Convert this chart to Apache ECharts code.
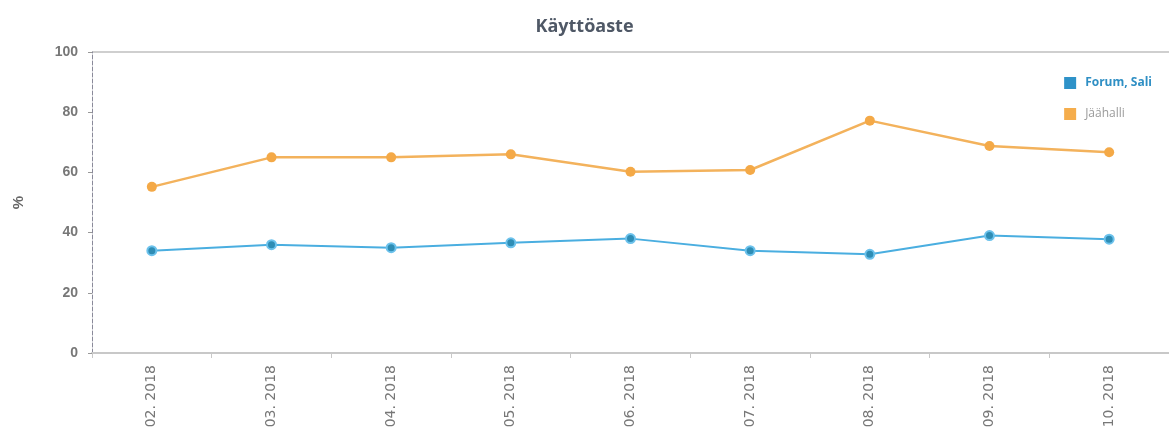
<!DOCTYPE html>
<html>
<head>
<meta charset="UTF-8">
<title>Käyttöaste</title>
<script src="https://cdn.jsdelivr.net/npm/echarts@6/dist/echarts.min.js"></script>
<style>
html,body{margin:0;padding:0;background:#fff;}
#main{width:1169px;height:445px;}
</style>
</head>
<body>
<div id="main"></div>
<script type="text/javascript">
var months = ["02. 2018","03. 2018","04. 2018","05. 2018","06. 2018","07. 2018","08. 2018","09. 2018","10. 2018"];
var forumSali = [34, 36, 35, 36.6, 38, 34, 32.8, 39, 37.8];
var jaahalli = [55.2, 65, 65, 66, 60.2, 60.8, 77.2, 68.8, 66.7];
var yTicks = [0, 20, 40, 60, 80, 100];

var myChart = echarts.init(document.getElementById('main'));
var option = {
	animation:false,
	title:{
		text:'Käyttöaste',
		left:'center',
		top:13,
		textStyle:{color:'#4f5866',fontSize:18,fontWeight:'bold',fontFamily:'Open Sans'}
	},
	legend:{
		orient:'vertical',
		right:12,
		top:72,
		itemWidth:12,
		itemHeight:12,
		itemGap:19,
		icon:'rect',
		itemStyle:{borderWidth:0},
		data:[
			{name:'Forum, Sali',itemStyle:{color:'#2e92c8',borderWidth:0},textStyle:{color:'#2f8fc4',fontWeight:'bold'}},
			{name:'Jäähalli',itemStyle:{color:'#f5ad4c',borderWidth:0},textStyle:{color:'#9a9a9a'}}
		],
		textStyle:{fontSize:12,fontFamily:'Open Sans',padding:[0,0,0,4]}
	},
	grid:{left:92,top:52,width:1080,height:301},
	xAxis:{
		type:'category',
		data:months,
		axisLine:{lineStyle:{color:'#c8c8c8',width:2}},
		axisTick:{show:true,alignWithLabel:false,lineStyle:{color:'#c8c8c8'}},
		axisLabel:{rotate:90,color:'#777',fontSize:14,fontFamily:'DejaVu Sans',margin:12}
	},
	yAxis:{
		type:'value',
		min:yTicks[0],
		max:yTicks[yTicks.length-1],
		interval:20,
		name:'%',
		nameLocation:'middle',
		nameGap:66,
		nameTextStyle:{color:'#666',fontSize:15,fontWeight:'bold'},
		axisLine:{show:true,lineStyle:{color:'#8a8a9a',width:1,type:'dashed'}},
		axisTick:{show:true,length:4,lineStyle:{color:'#999'}},
		axisLabel:{color:'#777',fontSize:14,fontWeight:'bold',margin:14},
		splitLine:{show:true,lineStyle:{color:['transparent','transparent','transparent','transparent','transparent','#cfcfcf'],width:2}}
	},
	series:[
		{
			name:'Forum, Sali',
			type:'line',
			data:forumSali,
			symbol:'circle',
			symbolSize:9,
			lineStyle:{color:'#4aaee0',width:2},
			itemStyle:{color:'#2e8db5',borderColor:'#6cc2ec',borderWidth:2}
		},
		{
			name:'Jäähalli',
			type:'line',
			data:jaahalli,
			symbol:'circle',
			symbolSize:10,
			lineStyle:{color:'#f3b25c',width:2.5},
			itemStyle:{color:'#f4a947'}
		}
	]
};
myChart.setOption(option);
</script>
</body>
</html>
